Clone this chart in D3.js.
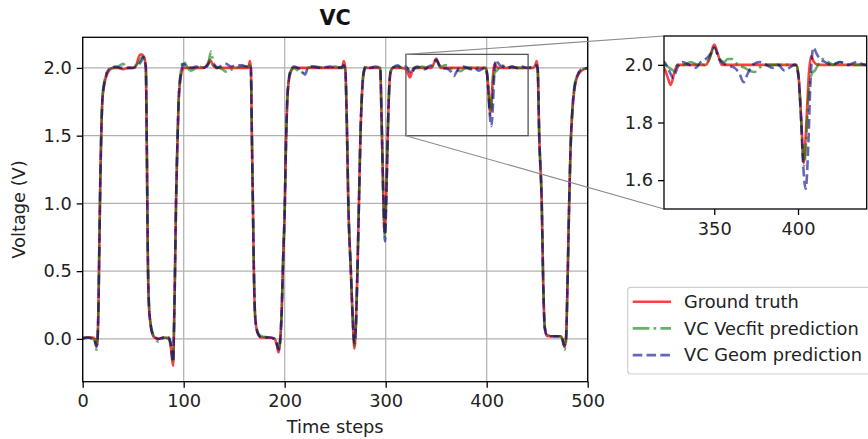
<!DOCTYPE html>
<html lang="en">
<head>
  <meta charset="UTF-8">
  <title>VC</title>
  <script src="https://d3js.org/d3.v7.min.js"></script>
  <style>
    body { margin: 0; background: #fff; }
    text { font-family: "DejaVu Sans", sans-serif; }
  </style>
</head>
<body>

  <script>
    ((window, document) => {
      "use strict";


      /**
       * -----------------------------------------------------------------------
       *  Data
       * -----------------------------------------------------------------------
       */

      // [time step, voltage]
      const groundTruth = [
        [0, 0.01], [5, 0.01], [10, 0.01], [12, 0.0], [13.5, -0.05], [14.5, -0.02],
        [15.5, 0.2], [16.5, 0.7], [17.5, 1.2], [18.5, 1.55], [19.5, 1.76], [21, 1.86],
        [23, 1.93], [26, 1.98], [30, 2.0], [35, 2.0], [40, 1.99], [45, 2.0], [50, 2.0],
        [53, 2.02], [56, 2.09], [58, 2.1], [60, 2.09], [61.5, 2.06], [62.5, 2.0],
        [63.5, 1.4], [64.5, 0.6], [65.5, 0.25], [67, 0.12], [68.5, 0.05], [71, 0.01],
        [75, 0.0], [80, 0.01], [85, 0.0], [87, -0.05], [89.5, -0.2], [90.5, 0.1],
        [91.5, 0.55], [92.4, 1.0], [94, 1.5], [95, 1.75], [96.3, 1.89], [98, 1.97],
        [100, 2.0], [110, 2.0], [120, 2.0], [123, 2.02], [126, 2.06], [129, 2.02],
        [132, 2.0], [145, 2.0], [160, 2.0], [164, 2.0], [165.5, 2.05], [166.5, 2.0],
        [167.5, 1.5], [168.5, 1.0], [169.5, 0.5], [170.5, 0.2], [172, 0.08], [174, 0.03],
        [177, 0.01], [185, 0.01], [190, 0.0], [192, -0.04], [194, -0.1], [195.5, -0.02],
        [197, 0.2], [198.5, 0.6], [200, 0.95], [201.3, 1.45], [202.5, 1.75], [204, 1.9],
        [206, 1.97], [209, 2.0], [220, 2.0], [235, 2.0], [250, 2.0], [257, 2.0],
        [258.5, 2.05], [260, 2.0], [261.5, 1.6], [263, 1.0], [265.5, 0.5], [267.5, 0.12],
        [269, -0.07], [270.5, 0.1], [272, 0.5], [273.5, 1.0], [275, 1.5], [276.5, 1.8],
        [278, 1.95], [280, 2.0], [287, 2.0], [294.5, 2.0], [296, 1.6], [297.5, 1.1],
        [299, 0.78], [300.5, 1.05], [302, 1.5], [303.5, 1.85], [305, 1.97], [307, 2.0],
        [315, 2.0], [320, 1.99], [322, 1.96], [324, 1.93], [326, 1.97], [328, 2.0],
        [335, 2.0], [345, 2.0], [347, 2.02], [350, 2.07], [352, 2.04], [354.5, 2.0],
        [365, 2.0], [380, 2.0], [399, 2.0], [400.5, 1.95], [402, 1.8], [403.4, 1.66],
        [405, 1.8], [406.5, 1.97], [407.8, 2.03], [409.5, 2.01], [412, 2.0], [425, 2.0],
        [440, 2.0], [446, 2.0], [448, 2.02], [449.5, 2.05], [450.5, 2.0], [452, 1.5],
        [454.5, 1.0], [456, 0.4], [457.5, 0.08], [460, 0.02], [467, 0.02], [473, 0.02],
        [475, 0.0], [477, -0.06], [478.5, 0.0], [480, 0.4], [481.5, 0.95], [483, 1.4],
        [485, 1.7], [487, 1.85], [490, 1.94], [494, 1.98], [500, 2.0],
      ];

      const vecfitPrediction = [
        [0, 0.0], [5, 0.01], [10, 0.0], [12, -0.02], [13.5, -0.08], [14.5, -0.04],
        [15.5, 0.2], [16.5, 0.7], [17.5, 1.2], [18.5, 1.55], [19.5, 1.78], [21, 1.88],
        [23, 1.95], [26, 1.99], [30, 2.0], [35, 2.01], [40, 2.03], [43, 2.01], [46, 2.0],
        [50, 2.01], [53, 2.02], [56, 2.05], [59, 2.08], [61.5, 2.06], [62.5, 2.02],
        [63.5, 1.4], [64.5, 0.6], [65.5, 0.28], [67, 0.13], [69, 0.05], [72, 0.0],
        [75, -0.02], [78, 0.0], [85, 0.01], [87, -0.03], [89.5, -0.16], [90.5, 0.12],
        [91.5, 0.55], [92.4, 1.0], [94, 1.52], [95, 1.78], [96.3, 1.92], [97.5, 1.99],
        [99, 2.05], [101, 2.04], [104, 2.0], [107, 1.98], [110, 1.99], [115, 2.01],
        [120, 2.0], [124, 2.02], [127, 2.12], [129, 2.05], [132, 2.01], [136, 2.0],
        [140, 1.98], [143, 1.97], [148, 1.99], [152, 2.0], [158, 2.01], [164, 2.01],
        [165.5, 2.02], [166.5, 1.98], [167.5, 1.5], [168.5, 1.0], [169.5, 0.5],
        [170.5, 0.2], [172, 0.09], [174, 0.04], [177, 0.02], [185, 0.01], [190, 0.0],
        [192, -0.03], [194, -0.07], [195.5, -0.01], [197, 0.2], [198.5, 0.6], [200, 0.95],
        [201.3, 1.45], [202.5, 1.75], [204, 1.92], [206, 1.98], [209, 2.0], [213, 1.98],
        [216, 1.96], [219, 1.98], [223, 2.0], [230, 2.01], [240, 2.0], [250, 2.01],
        [257, 2.0], [258.5, 2.01], [260, 1.98], [261.5, 1.6], [263, 1.0], [265.5, 0.5],
        [267.5, 0.12], [269, -0.05], [270.5, 0.1], [272, 0.5], [273.5, 1.0], [275, 1.5],
        [276.5, 1.82], [278, 1.96], [280, 2.0], [284, 2.01], [290, 2.0], [294.5, 2.0],
        [296, 1.6], [297.5, 1.1], [299, 0.76], [300.5, 1.05], [302, 1.5], [303.5, 1.86],
        [305, 1.98], [307, 2.0], [312, 2.01], [316, 2.0], [320, 2.0], [323, 1.99],
        [326, 1.98], [328, 2.0], [332, 2.0], [336, 2.01], [340, 2.0], [344, 2.0],
        [347, 2.02], [350, 2.06], [353, 2.02], [356, 2.01], [358, 2.02], [361, 2.02],
        [364, 2.0], [368, 1.99], [371, 1.98], [374, 1.975], [377, 1.99], [380, 2.0],
        [390, 2.0], [399, 2.0], [400.5, 1.95], [402, 1.8], [403.6, 1.65], [405, 1.75],
        [406.3, 1.9], [408.3, 1.97], [410, 1.98], [412, 2.0], [415, 2.02], [418, 2.01],
        [421, 2.0], [425, 2.01], [430, 2.0], [440, 2.0], [446, 2.0], [449.5, 2.01],
        [450.5, 1.98], [452, 1.5], [454.5, 1.0], [456, 0.4], [457.5, 0.09], [460, 0.03],
        [467, 0.02], [473, 0.02], [475, -0.01], [477, -0.08], [478.5, -0.02], [480, 0.4],
        [481.5, 0.95], [483, 1.4], [485, 1.72], [487, 1.87], [490, 1.95], [494, 1.99],
        [500, 2.0],
      ];

      const geomPrediction = [
        [0, 0.0], [5, 0.01], [10, 0.0], [12, -0.01], [13.5, -0.06], [14.5, -0.03],
        [15.5, 0.2], [16.5, 0.7], [17.5, 1.2], [18.5, 1.55], [19.5, 1.77], [21, 1.87],
        [23, 1.94], [26, 1.99], [30, 2.0], [32, 2.01], [38, 2.0], [44, 2.0], [50, 2.0],
        [55, 2.02], [58, 2.05], [60, 2.08], [61.5, 2.05], [62.5, 2.0], [63.5, 1.4],
        [64.5, 0.6], [65.5, 0.27], [67, 0.12], [69, 0.04], [72, 0.01], [75, 0.0],
        [80, 0.01], [85, 0.01], [87, -0.03], [89.5, -0.17], [90.5, 0.12], [91.5, 0.55],
        [92.4, 1.0], [94, 1.5], [95, 1.76], [96.3, 1.9], [98, 1.99], [99.5, 2.03],
        [103, 2.01], [108, 2.0], [112, 2.01], [118, 2.0], [122, 2.01], [126, 2.04],
        [129, 2.03], [133, 2.0], [138, 2.02], [142, 2.03], [147, 2.01], [152, 2.02],
        [158, 2.02], [162, 2.01], [165, 2.02], [166.5, 2.0], [167.5, 1.5], [168.5, 1.0],
        [169.5, 0.5], [170.5, 0.2], [172, 0.08], [174, 0.03], [177, 0.01], [185, 0.01],
        [190, 0.0], [192, -0.03], [194, -0.08], [195.5, -0.01], [197, 0.2], [198.5, 0.6],
        [200, 0.95], [201.3, 1.45], [202.5, 1.76], [204, 1.91], [206, 1.98], [209, 2.01],
        [213, 2.0], [217, 1.98], [220, 1.95], [223, 2.0], [228, 2.01], [235, 2.0],
        [245, 2.01], [252, 2.0], [257, 2.01], [258.5, 2.02], [260, 1.99], [261.5, 1.6],
        [263, 1.0], [265.5, 0.5], [267.5, 0.12], [269, -0.03], [270.5, 0.1], [272, 0.5],
        [273.5, 1.0], [275, 1.5], [276.5, 1.81], [278, 1.96], [280, 2.01], [285, 2.0],
        [290, 2.01], [294.5, 2.0], [296, 1.6], [297.5, 1.1], [299.3, 0.72], [300.5, 1.0],
        [302, 1.5], [303.5, 1.86], [305, 1.98], [307, 2.0], [312, 2.02], [316, 2.0],
        [320, 2.01], [323, 1.98], [325.5, 1.955], [328, 1.99], [331, 2.01], [335, 2.0],
        [339, 1.99], [342, 2.01], [345, 2.02], [348, 2.04], [350, 2.06], [353, 2.02],
        [357, 2.0], [362, 1.99], [365, 1.97], [367.5, 1.94], [370, 1.97], [373, 2.0],
        [377, 2.01], [381, 2.0], [385, 1.99], [388, 2.0], [392, 1.98], [395, 1.99],
        [398, 2.0], [400, 1.97], [401.5, 1.85], [403, 1.66], [404.6, 1.57], [406, 1.7],
        [407.5, 1.95], [409.2, 2.06], [411, 2.04], [413, 2.02], [416, 2.01], [420, 2.0],
        [425, 2.01], [430, 2.0], [435, 2.01], [440, 2.0], [446, 2.01], [449.5, 2.02],
        [450.5, 1.99], [452, 1.5], [454.5, 1.0], [456, 0.4], [457.5, 0.08], [460, 0.02],
        [467, 0.02], [473, 0.02], [475, 0.0], [477, -0.05], [478.5, 0.0], [480, 0.4],
        [481.5, 0.95], [483, 1.4], [485, 1.71], [487, 1.86], [490, 1.95], [494, 1.99],
        [500, 2.0],
      ];

      const seriesNames = ["Ground truth", "VC Vecfit prediction", "VC Geom prediction"];

      const xTicks = [0, 100, 200, 300, 400, 500];
      const yTicks = [0.0, 0.5, 1.0, 1.5, 2.0];
      const insetXTicks = [350, 400];
      const insetYTicks = [1.6, 1.8, 2.0];


      /**
       * -----------------------------------------------------------------------
       *  Render
       * -----------------------------------------------------------------------
       */

      const W = 868, H = 439;
      const FONT = 17.8;

      const svg = d3.select("body").append("svg")
        .attr("width", W).attr("height", H);

      const series = [
        { name: seriesNames[0], data: groundTruth, color: "#ff0000", opacity: 0.75, dash: null },
        { name: seriesNames[1], data: vecfitPrediction, color: "#008000", opacity: 0.6, dash: "16.7,4.2,2.6,4.2" },
        { name: seriesNames[2], data: geomPrediction, color: "#00008b", opacity: 0.6, dash: "9.6,4.2" },
      ];

      // main axes
      const main = { left: 82.7, right: 587.7, top: 37.3, bottom: 381.7 };
      const x = d3.scaleLinear().domain([0, 500]).range([main.left, main.right]);
      const y = d3.scaleLinear().domain([-0.316, 2.226]).range([main.bottom, main.top]);

      // inset axes
      const ins = { left: 664, right: 866.7, top: 36, bottom: 209 };
      const ix = d3.scaleLinear().domain([320, 441]).range([ins.left, ins.right]);
      const iy = d3.scaleLinear().domain([1.5, 2.1]).range([ins.bottom, ins.top]);

      const defs = svg.append("defs");
      defs.append("clipPath").attr("id", "clip-main").append("rect")
        .attr("x", main.left).attr("y", main.top)
        .attr("width", main.right - main.left).attr("height", main.bottom - main.top);
      defs.append("clipPath").attr("id", "clip-inset").append("rect")
        .attr("x", ins.left).attr("y", ins.top)
        .attr("width", ins.right - ins.left).attr("height", ins.bottom - ins.top);

      // grid
      const grid = svg.append("g").attr("stroke", "#b0b0b0").attr("stroke-width", 1.2);
      grid.selectAll(".gx").data(xTicks).enter().append("line")
        .attr("x1", d => x(d)).attr("x2", d => x(d))
        .attr("y1", main.top).attr("y2", main.bottom);
      grid.selectAll(".gy").data(yTicks).enter().append("line")
        .attr("x1", main.left).attr("x2", main.right)
        .attr("y1", d => y(d)).attr("y2", d => y(d));

      function drawLines (g, sx, sy, clipId) {
        const line = d3.line().x(d => sx(d[0])).y(d => sy(d[1])).curve(d3.curveMonotoneX);
        g.append("g").attr("clip-path", `url(#${clipId})`)
          .selectAll("path").data(series).enter().append("path")
            .attr("d", d => line(d.data))
            .attr("fill", "none")
            .attr("stroke", d => d.color)
            .attr("stroke-opacity", d => d.opacity)
            .attr("stroke-width", 2.6)
            .attr("stroke-dasharray", d => d.dash);
      }

      function styleAxis (g) {
        g.attr("font-family", "DejaVu Sans, sans-serif").attr("font-size", FONT);
        g.select(".domain").remove();
        g.selectAll(".tick line").attr("stroke", "#000").attr("stroke-width", 1.3);
        g.selectAll(".tick text").attr("fill", "#222");
      }

      function frame (box) {
        svg.append("rect")
          .attr("x", box.left).attr("y", box.top)
          .attr("width", box.right - box.left).attr("height", box.bottom - box.top)
          .attr("fill", "none").attr("stroke", "#000").attr("stroke-width", 1.3);
      }

      drawLines(svg, x, y, "clip-main");

      svg.append("g").attr("transform", `translate(0,${main.bottom})`)
        .call(d3.axisBottom(x).tickValues(xTicks).tickSize(6).tickPadding(7).tickFormat(d3.format("d")))
        .call(styleAxis);
      svg.append("g").attr("transform", `translate(${main.left},0)`)
        .call(d3.axisLeft(y).tickValues(yTicks).tickSize(6).tickPadding(5).tickFormat(d3.format(".1f")))
        .call(styleAxis);
      frame(main);

      // zoom indicator and connectors
      svg.append("rect")
        .attr("x", x(320)).attr("y", y(2.1))
        .attr("width", x(441) - x(320)).attr("height", y(1.5) - y(2.1))
        .attr("fill", "none").attr("stroke", "#555").attr("stroke-width", 1.3);
      const connectors = [[x(320), y(2.1), ins.left, ins.top], [x(320), y(1.5), ins.left, ins.bottom]];
      svg.selectAll(".connector").data(connectors).enter().append("line")
        .attr("x1", d => d[0]).attr("y1", d => d[1])
        .attr("x2", d => d[2]).attr("y2", d => d[3])
        .attr("stroke", "#8a8a8a").attr("stroke-width", 1.1);

      // inset
      svg.append("rect")
        .attr("x", ins.left).attr("y", ins.top)
        .attr("width", ins.right - ins.left).attr("height", ins.bottom - ins.top)
        .attr("fill", "#fff");
      drawLines(svg, ix, iy, "clip-inset");
      svg.append("g").attr("transform", `translate(0,${ins.bottom})`)
        .call(d3.axisBottom(ix).tickValues(insetXTicks).tickSize(6).tickPadding(7).tickFormat(d3.format("d")))
        .call(styleAxis);
      svg.append("g").attr("transform", `translate(${ins.left},0)`)
        .call(d3.axisLeft(iy).tickValues(insetYTicks).tickSize(6).tickPadding(5).tickFormat(d3.format(".1f")))
        .call(styleAxis);
      frame(ins);

      // title and labels
      svg.append("text")
        .attr("x", (main.left + main.right) / 2).attr("y", 25)
        .attr("text-anchor", "middle").attr("font-size", 20.8).attr("font-weight", "bold")
        .attr("fill", "#111").text("VC");
      svg.append("text")
        .attr("x", (main.left + main.right) / 2).attr("y", 433)
        .attr("text-anchor", "middle").attr("font-size", FONT).attr("fill", "#222")
        .text("Time steps");
      svg.append("text")
        .attr("transform", `translate(25,${(main.top + main.bottom) / 2}) rotate(-90)`)
        .attr("text-anchor", "middle").attr("font-size", FONT).attr("fill", "#222")
        .text("Voltage (V)");

      // legend
      const legend = svg.append("g");
      legend.append("rect")
        .attr("x", 627.7).attr("y", 287.3).attr("width", 260).attr("height", 86.7)
        .attr("rx", 3).attr("fill", "#fff").attr("stroke", "#d0d0d0").attr("stroke-width", 1.2);
      const rows = legend.selectAll(".row").data(series).enter().append("g")
        .attr("transform", (d, i) => `translate(0,${301.7 + 26.7 * i})`);
      rows.append("line")
        .attr("x1", 632.7).attr("x2", 671)
        .attr("stroke", d => d.color).attr("stroke-opacity", d => d.opacity)
        .attr("stroke-width", 2.6).attr("stroke-dasharray", d => d.dash);
      rows.append("text")
        .attr("x", 684).attr("y", 6.2)
        .attr("font-size", FONT).attr("fill", "#222")
        .text(d => d.name);

    })(window, document);
  </script>

</body>
</html>
